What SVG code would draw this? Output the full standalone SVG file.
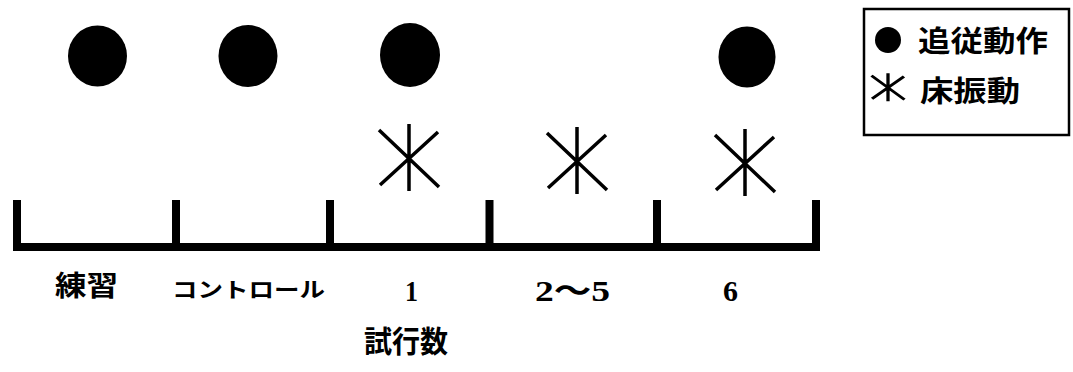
<svg xmlns="http://www.w3.org/2000/svg" width="1073" height="372" viewBox="0 0 1073 372">
<style>
.dot{fill:#000}
.ast{fill:none;stroke:#000;stroke-width:3.5;stroke-linecap:butt}
.axis{fill:none;stroke:#000;stroke-width:8;stroke-linejoin:miter;stroke-linecap:square}
.jp{font-family:"Noto Sans CJK JP","Noto Sans CJK SC",sans-serif;font-weight:bold;fill:#000}
.num{font-family:"Liberation Serif","Noto Sans CJK JP",serif;font-weight:bold;fill:#000;font-size:30px}
</style>
<defs>
<path id="star" d="M0,-33V34M-30,-27L30,30M29,-25L-29,28"/>
</defs>
<rect width="1073" height="372" fill="#fff"/>
<g id="connectors">
<path class="axis" d="M17,204V247H816V204"/>
<path class="axis" d="M176,204V247M330,204V247M489.5,204V247M657,204V247"/>
</g>
<g id="dot-practice"><ellipse class="dot" cx="97.5" cy="56" rx="29.5" ry="30.5"/></g>
<g id="dot-control"><ellipse class="dot" cx="248" cy="56" rx="29.5" ry="31"/></g>
<g id="dot-1"><ellipse class="dot" cx="410" cy="55" rx="30" ry="32"/></g>
<g id="dot-6"><ellipse class="dot" cx="747" cy="57" rx="28.5" ry="30.5"/></g>
<g id="star-1"><use href="#star" class="ast" transform="translate(409,157)"/></g>
<g id="star-2-5"><use href="#star" class="ast" transform="translate(577,160)"/></g>
<g id="star-6"><use href="#star" class="ast" transform="translate(745,162)"/></g>
<g id="labels">
<text class="jp" x="55" y="296" font-size="28" textLength="63" lengthAdjust="spacingAndGlyphs">練習</text>
<text class="jp" x="172" y="297" font-size="21" textLength="153" lengthAdjust="spacingAndGlyphs">コントロール</text>
<text class="num" x="405" y="301" textLength="13" lengthAdjust="spacingAndGlyphs">1</text>
<text class="num" x="535" y="301" textLength="75" lengthAdjust="spacingAndGlyphs">2～5</text>
<text class="num" x="723" y="301" textLength="15" lengthAdjust="spacingAndGlyphs">6</text>
<text class="jp" x="364" y="352" font-size="30" textLength="84" lengthAdjust="spacingAndGlyphs">試行数</text>
</g>
<g id="legend">
<rect x="864" y="9" width="205" height="126" fill="#fff" stroke="#000" stroke-width="2.5"/>
<circle class="dot" cx="888" cy="40" r="13"/>
<text class="jp" x="918" y="52" font-size="29" textLength="130" lengthAdjust="spacingAndGlyphs">追従動作</text>
<use href="#star" class="ast" transform="translate(888,87) scale(0.55,0.42)" style="stroke-width:6"/>
<text class="jp" x="920" y="102" font-size="29" textLength="100" lengthAdjust="spacingAndGlyphs">床振動</text>
</g>
</svg>
